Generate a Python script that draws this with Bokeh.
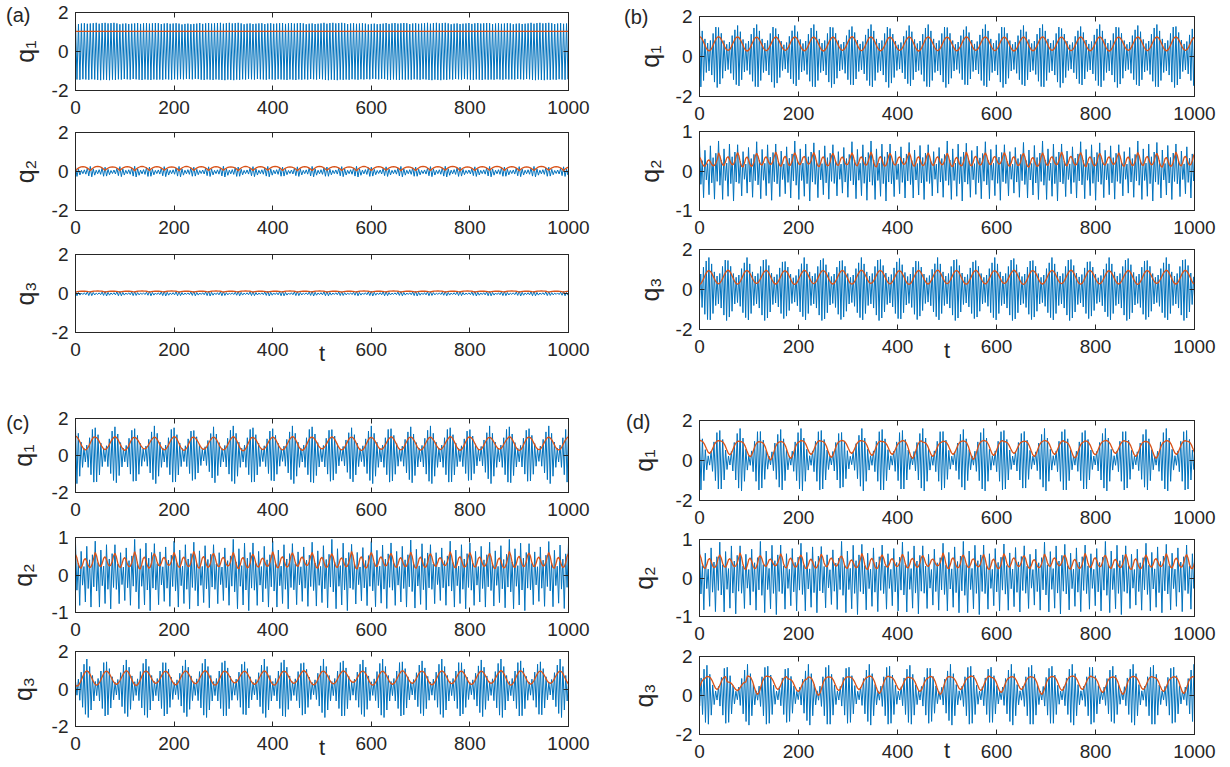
from bokeh.plotting import figure
from bokeh.layouts import column, row
from bokeh.models import LinearAxis, FixedTicker, Range1d
from bokeh.embed import file_html
from bokeh.resources import INLINE

FONT = "Liberation Sans"
AX = "#262626"
BLUE = "#0072BD"
RED = "#D95319"

# ---------------- data ----------------
X_TICKS = [0, 200, 400, 600, 800, 1000]
Y_TICKS_2 = [-2, 0, 2]
Y_TICKS_1 = [-1, 0, 1]
PANEL_LETTERS = ["(a)", "(b)", "(c)", "(d)"]
Y_NAMES = ["q\u2081", "q\u2082", "q\u2083"]
X_NAME = "t"

# normalised profiles of one cycle / one beat
RED_COS = [1.0, 0.93, 0.75, 0.5, 0.25, 0.07, 0.0, 0.07, 0.25, 0.5, 0.75, 0.93]
RED_WIDE = [1.0, 0.98, 0.9, 0.7, 0.4, 0.12, 0.0, 0.15, 0.45, 0.75, 0.92, 0.99]
RED_ARC = [0.0, 0.45, 0.75, 0.93, 1.0, 0.93, 0.75, 0.45]
RED_DBL = [1.0, 0.75, 0.3, 0.05, 0.0, 0.25, 0.6, 0.7, 0.5, 0.2, 0.05, 0.1, 0.35, 0.75]

FLAT_UP = [1.0, 0.97, 0.99, 1.0, 0.98, 0.99, 1.0]
FLAT_DN = [0.99, 1.0, 0.98, 0.99, 1.0, 0.98, 0.99]
SMALL_UP = [1.0, 0.55, 0.3, 0.4, 0.75]
SMALL_DN = [0.9, 0.6, 0.35, 0.45, 0.8]
BEAT_UP_B = [1.0, 0.8, 0.55, 0.42, 0.5, 0.72, 0.92]
BEAT_DN_B = [0.95, 0.75, 0.5, 0.45, 0.58, 0.8, 0.97]
BEAT_UP_C = [1.0, 0.75, 0.45, 0.25, 0.35, 0.6, 0.88]
BEAT_DN_C = [0.95, 0.7, 0.4, 0.22, 0.4, 0.65, 0.9]
BEAT_UP_D = [1.0, 0.7, 0.35, 0.15, 0.3, 0.6, 0.9]
BEAT_DN_D = [0.95, 0.65, 0.3, 0.15, 0.35, 0.65, 0.92]
Q2_UP = [0.95, 0.35, 0.7, 0.25, 0.85, 0.45, 0.6]
Q2_DN = [0.45, 0.9, 0.3, 0.8, 0.4, 0.95, 0.35]

# (a)
A1_RED_PK = [1.03, 1.03, 1.03, 1.03, 1.03, 1.03, 1.03, 1.03, 1.03, 1.03, 1.03, 1.03, 1.03,
             1.03, 1.03, 1.03, 1.03, 1.03, 1.03, 1.03, 1.03, 1.03, 1.03, 1.03, 1.03]
A1_RED_TR = A1_RED_PK
A1_BLUE = [1.45, 1.47, 1.44, 1.46, 1.45, 1.43, 1.46, 1.47, 1.44, 1.45, 1.46, 1.44, 1.47,
           1.45, 1.43, 1.46, 1.45, 1.47, 1.44, 1.46, 1.45, 1.44, 1.47, 1.45, 1.46]
A2_RED_PK = [0.25, 0.26, 0.24, 0.25, 0.26, 0.25, 0.24, 0.26, 0.25, 0.25, 0.24, 0.26, 0.25, 0.26,
             0.24, 0.25, 0.26, 0.25, 0.24, 0.26, 0.25, 0.25, 0.24, 0.26, 0.25, 0.26, 0.24, 0.25,
             0.26, 0.25, 0.24, 0.26, 0.25, 0.25, 0.24]
A2_RED_TR = [0.04, 0.05, 0.06, 0.05, 0.04, 0.05, 0.06, 0.04, 0.05, 0.05, 0.06, 0.04, 0.05, 0.06,
             0.05, 0.04, 0.05, 0.06, 0.05, 0.04, 0.05, 0.06, 0.04, 0.05, 0.05, 0.06, 0.04, 0.05,
             0.06, 0.05, 0.04, 0.05, 0.06, 0.05, 0.04]
A2_BLUE = [0.26, 0.28, 0.24, 0.27, 0.29, 0.25, 0.27, 0.28, 0.24, 0.26, 0.29, 0.25, 0.27, 0.28,
           0.24, 0.26, 0.28, 0.25, 0.27, 0.29, 0.24, 0.26, 0.28, 0.25, 0.27, 0.29, 0.24, 0.26,
           0.28, 0.25, 0.27, 0.28, 0.24, 0.26, 0.28]
A3_RED_PK = [0.12, 0.13, 0.12, 0.12, 0.13, 0.12, 0.13, 0.12, 0.12, 0.13, 0.12, 0.13, 0.12, 0.12,
             0.13, 0.12, 0.13, 0.12, 0.12, 0.13, 0.12, 0.13, 0.12, 0.12, 0.13, 0.12, 0.13, 0.12,
             0.12, 0.13, 0.12, 0.13, 0.12, 0.12, 0.13]
A3_RED_TR = [0.07, 0.08, 0.07, 0.07, 0.08, 0.07, 0.08, 0.07, 0.07, 0.08, 0.07, 0.08, 0.07, 0.07,
             0.08, 0.07, 0.08, 0.07, 0.07, 0.08, 0.07, 0.08, 0.07, 0.07, 0.08, 0.07, 0.08, 0.07,
             0.07, 0.08, 0.07, 0.08, 0.07, 0.07, 0.08]
A3_BLUE = [0.12, 0.11, 0.13, 0.12, 0.1, 0.12, 0.13, 0.11, 0.12, 0.13, 0.1, 0.12, 0.11, 0.13,
           0.12, 0.11, 0.13, 0.12, 0.1, 0.12, 0.13, 0.11, 0.12, 0.13, 0.1, 0.12, 0.11, 0.13,
           0.12, 0.11, 0.13, 0.12, 0.1, 0.12, 0.13]
# (b)
B1_RED_PK = [1.0, 0.99, 0.98, 0.97, 0.98, 0.99, 0.97, 0.98, 1.0, 0.98, 0.97, 0.99, 0.98, 0.97,
             0.99, 0.98, 0.97, 0.98, 0.99, 0.97, 0.98, 0.99, 0.97, 0.98, 0.99, 0.98, 0.97]
B1_RED_TR = [0.28, 0.3, 0.27, 0.29, 0.3, 0.28, 0.27, 0.3, 0.29, 0.28, 0.3, 0.27, 0.29, 0.28,
             0.3, 0.29, 0.27, 0.28, 0.3, 0.29, 0.28, 0.27, 0.3, 0.29, 0.28, 0.3, 0.29]
B1_BLUE = [1.6, 1.45, 1.55, 1.6, 1.4, 1.55, 1.6, 1.45, 1.5, 1.6, 1.4, 1.55, 1.6, 1.45,
           1.5, 1.6, 1.45, 1.55, 1.6, 1.4, 1.5, 1.6, 1.45, 1.55, 1.6, 1.5, 1.45]
B2_RED_PK = [0.35, 0.46, 0.47, 0.45, 0.48, 0.46, 0.47, 0.45, 0.46, 0.48, 0.45, 0.47, 0.46, 0.45,
             0.48, 0.46, 0.47, 0.45, 0.46, 0.48, 0.47, 0.45, 0.46, 0.47, 0.45, 0.48, 0.46]
B2_RED_TR = [0.12, 0.14, 0.1, 0.15, 0.12, 0.16, 0.11, 0.14, 0.13, 0.1, 0.15, 0.12, 0.14, 0.11,
             0.13, 0.16, 0.12, 0.1, 0.14, 0.13, 0.11, 0.15, 0.12, 0.14, 0.1, 0.13, 0.12]
B2_BLUE = [0.75, 0.8, 0.7, 0.78, 0.72, 0.8, 0.75, 0.7, 0.78, 0.8, 0.72, 0.76, 0.7, 0.8,
           0.74, 0.78, 0.7, 0.76, 0.8, 0.72, 0.78, 0.75, 0.7, 0.8, 0.76, 0.72, 0.78]
B3_RED_PK = [0.96, 0.95, 0.97, 0.95, 0.96, 0.94, 0.97, 0.95, 0.96, 0.97, 0.95, 0.94, 0.96, 0.97,
             0.95, 0.96, 0.94, 0.97, 0.95, 0.96, 0.97, 0.95, 0.94, 0.96, 0.95, 0.97, 0.96]
B3_RED_TR = [0.25, 0.28, 0.26, 0.3, 0.27, 0.25, 0.29, 0.27, 0.26, 0.3, 0.28, 0.25, 0.27, 0.29,
             0.26, 0.28, 0.3, 0.25, 0.27, 0.29, 0.26, 0.28, 0.27, 0.25, 0.3, 0.27, 0.26]
B3_BLUE = [1.55, 1.6, 1.45, 1.6, 1.5, 1.4, 1.6, 1.55, 1.45, 1.6, 1.5, 1.55, 1.4, 1.6,
           1.5, 1.45, 1.6, 1.55, 1.45, 1.6, 1.5, 1.4, 1.6, 1.55, 1.45, 1.6, 1.5]
# (c)
C1_RED_PK = [1.05, 1.0, 1.02, 0.98, 1.0, 1.03, 0.99, 1.0, 1.02, 0.98, 1.0, 1.03, 0.99,
             1.01, 1.0, 0.98, 1.02, 1.0, 0.99, 1.03, 1.0, 0.98, 1.02, 1.0, 0.99, 1.01]
C1_RED_TR = [0.3, 0.32, 0.28, 0.35, 0.3, 0.27, 0.33, 0.3, 0.25, 0.32, 0.3, 0.28, 0.35,
             0.3, 0.27, 0.33, 0.3, 0.29, 0.32, 0.28, 0.3, 0.34, 0.27, 0.31, 0.3, 0.29]
C1_BLUE = [1.6, 1.5, 1.55, 1.45, 1.6, 1.5, 1.35, 1.55, 1.6, 1.5, 1.45, 1.6, 1.55,
           1.4, 1.5, 1.6, 1.45, 1.55, 1.6, 1.5, 1.4, 1.6, 1.55, 1.45, 1.6, 1.5]
C2_RED_PK = [0.55, 0.6, 0.58, 0.62, 0.57, 0.6, 0.63, 0.58, 0.6, 0.56, 0.62, 0.59, 0.6,
             0.57, 0.63, 0.6, 0.58, 0.61, 0.57, 0.62, 0.6, 0.58, 0.63, 0.59, 0.6, 0.57]
C2_RED_TR = [0.18, 0.22, 0.2, 0.16, 0.24, 0.2, 0.18, 0.22, 0.17, 0.21, 0.19, 0.23, 0.18,
             0.2, 0.16, 0.22, 0.2, 0.18, 0.23, 0.19, 0.21, 0.17, 0.2, 0.22, 0.18, 0.2]
C2_BLUE = [0.9, 0.95, 0.85, 1.0, 0.88, 0.95, 0.92, 0.85, 1.0, 0.9, 0.95, 0.88, 0.92,
           1.0, 0.86, 0.94, 0.9, 0.98, 0.85, 0.95, 0.9, 0.92, 1.0, 0.88, 0.94, 0.9]
C3_RED_PK = [0.96, 0.97, 0.95, 0.98, 0.96, 0.95, 0.97, 0.98, 0.96, 0.95, 0.97, 0.96, 0.98,
             0.95, 0.97, 0.96, 0.95, 0.98, 0.96, 0.97, 0.95, 0.96, 0.98, 0.97, 0.95, 0.96]
C3_RED_TR = [0.15, 0.2, 0.25, 0.18, 0.3, 0.22, 0.28, 0.2, 0.32, 0.25, 0.2, 0.3, 0.22,
             0.27, 0.35, 0.2, 0.25, 0.3, 0.22, 0.28, 0.24, 0.3, 0.2, 0.26, 0.3, 0.22]
C3_BLUE = [1.5, 1.6, 1.45, 1.55, 1.6, 1.4, 1.55, 1.6, 1.5, 1.45, 1.6, 1.55, 1.4,
           1.6, 1.5, 1.55, 1.6, 1.45, 1.5, 1.6, 1.4, 1.55, 1.6, 1.5, 1.45, 1.6]
# (d)
D1_RED_PK = [1.0, 0.98, 0.95, 0.93, 0.95, 1.0, 0.97, 1.0, 0.98, 0.95, 1.0, 0.92, 0.97,
             0.98, 1.0, 0.95, 0.97, 1.0, 0.93, 0.98, 1.0, 0.96, 0.95, 1.0, 0.97]
D1_RED_TR = [0.35, 0.28, 0.18, 0.02, 0.1, 0.3, 0.15, 0.35, 0.25, 0.3, 0.1, 0.2, 0.3,
             0.05, 0.25, 0.35, 0.2, 0.3, 0.12, 0.28, 0.35, 0.2, 0.1, 0.3, 0.25]
D1_BLUE = [1.55, 1.5, 1.6, 1.45, 1.55, 1.6, 1.5, 1.4, 1.6, 1.55, 1.5, 1.6, 1.45,
           1.55, 1.6, 1.5, 1.45, 1.6, 1.55, 1.5, 1.6, 1.45, 1.55, 1.6, 1.5]
D2_RED_PK = [0.62, 0.6, 0.65, 0.58, 0.63, 0.6, 0.62, 0.57, 0.64, 0.6, 0.62, 0.58, 0.65,
             0.6, 0.61, 0.63, 0.58, 0.62, 0.6, 0.64, 0.59, 0.62, 0.6, 0.63, 0.61]
D2_RED_TR = [0.25, 0.28, 0.22, 0.3, 0.26, 0.24, 0.29, 0.25, 0.22, 0.28, 0.26, 0.3, 0.24,
             0.27, 0.22, 0.28, 0.25, 0.3, 0.23, 0.27, 0.25, 0.22, 0.28, 0.26, 0.24]
D2_BLUE = [0.92, 0.98, 0.88, 1.0, 0.9, 0.95, 0.86, 1.0, 0.92, 0.9, 0.98, 0.88, 0.95,
           1.0, 0.9, 0.93, 0.88, 0.98, 0.92, 0.9, 1.0, 0.88, 0.95, 0.92, 0.9]
D3_RED_PK = [0.9, 0.98, 0.7, 1.0, 0.98, 0.85, 0.95, 0.96, 0.95, 1.0, 0.95, 0.92, 0.98,
             0.95, 1.0, 0.93, 0.97, 0.95, 0.98, 1.0, 0.94, 0.96, 0.98, 0.93, 0.97, 0.95]
D3_RED_TR = [0.2, 0.3, 0.25, 0.05, 0.3, 0.2, 0.0, 0.25, 0.3, 0.1, 0.28, 0.2, 0.05,
             0.3, 0.25, 0.15, 0.3, 0.05, 0.25, 0.3, 0.15, 0.05, 0.3, 0.2, 0.1, 0.25]
D3_BLUE = [1.5, 1.55, 1.45, 1.6, 1.5, 1.4, 1.6, 1.55, 1.45, 1.6, 1.5, 1.55, 1.4,
           1.6, 1.5, 1.45, 1.6, 1.55, 1.5, 1.6, 1.45, 1.5, 1.6, 1.55, 1.45, 1.6]

# panel: (cycle start, cycle length, red peaks, red troughs, red profile,
#         blue amplitudes, blue up profile, blue down profile, blue centre)
SERIES = {
    "a1": (0, 42, A1_RED_PK, A1_RED_TR, RED_COS, A1_BLUE, FLAT_UP, FLAT_DN, 0.0),
    "a2": (0, 30, A2_RED_PK, A2_RED_TR, RED_ARC, A2_BLUE, SMALL_UP, SMALL_DN, -0.02),
    "a3": (0, 30, A3_RED_PK, A3_RED_TR, RED_ARC, A3_BLUE, SMALL_UP, SMALL_DN, -0.01),
    "b1": (0, 38.5, B1_RED_PK, B1_RED_TR, RED_COS, B1_BLUE, BEAT_UP_B, BEAT_DN_B, 0.0),
    "b2": (0, 38.5, B2_RED_PK, B2_RED_TR, RED_DBL, B2_BLUE, Q2_UP, Q2_DN, 0.0),
    "b3": (-19.5, 38.5, B3_RED_PK, B3_RED_TR, RED_COS, B3_BLUE, BEAT_UP_B, BEAT_DN_B, 0.0),
    "c1": (0, 40, C1_RED_PK, C1_RED_TR, RED_COS, C1_BLUE, BEAT_UP_C, BEAT_DN_C, 0.0),
    "c2": (0, 40, C2_RED_PK, C2_RED_TR, RED_DBL, C2_BLUE, Q2_UP, Q2_DN, 0.0),
    "c3": (-17, 40, C3_RED_PK, C3_RED_TR, RED_COS, C3_BLUE, BEAT_UP_C, BEAT_DN_C, 0.0),
    "d1": (0, 41, D1_RED_PK, D1_RED_TR, RED_WIDE, D1_BLUE, BEAT_UP_D, BEAT_DN_D, 0.0),
    "d2": (0, 41, D2_RED_PK, D2_RED_TR, RED_DBL, D2_BLUE, Q2_UP, Q2_DN, 0.0),
    "d3": (-26, 41, D3_RED_PK, D3_RED_TR, RED_WIDE, D3_BLUE, BEAT_UP_D, BEAT_DN_D, 0.0),
}


def red_series(t0, period, peaks, troughs, shape):
    xs, ys = [], []
    n = len(shape)
    for k, (pk, tr) in enumerate(zip(peaks, troughs)):
        for j, s in enumerate(shape):
            xs.append(t0 + k * period + j * period / n)
            ys.append(tr + (pk - tr) * s)
    return xs, ys


def blue_series(t0, period, amps, up, dn, centre):
    xs, ys = [], []
    n = len(up)
    dt = period / n
    for k, a in enumerate(amps):
        for j in range(n):
            t = t0 + k * period + j * dt
            xs += [t, t + dt / 2]
            ys += [centre + a * up[j], centre - a * dn[j]]
    return xs, ys


# ---------------- layout ----------------
LEFT = (75, 493, 40)
RIGHT = (91, 495, 30)
# panel: (column geometry, css margin top, border top, frame height, border bottom)
GEOM = {
    "a1": (LEFT, 0, 12, 78, 42), "a2": (LEFT, -14, 14, 78, 42), "a3": (LEFT, -12, 14, 78, 42),
    "b1": (RIGHT, 0, 16, 80, 42), "b2": (RIGHT, -21, 14, 79, 42), "b3": (RIGHT, -17, 14, 80, 42),
    "c1": (LEFT, 30, 14, 74, 42), "c2": (LEFT, -11, 14, 75, 42), "c3": (LEFT, -17, 14, 75, 40),
    "d1": (RIGHT, 32, 14, 80, 42), "d2": (RIGHT, -17, 14, 77, 42), "d3": (RIGHT, -16, 14, 78, 33),
}
# y label standoff per group; letter: (tick value, label standoff); t label standoff
QSTAND = {"a": 10, "b": 9, "c": 12, "d": 15}
LETTER = {"a": (1.85, -23), "b": (2.0, -16), "c": (1.73, -24), "d": (1.91, -24)}
TSTAND = {"a": -18, "b": -18, "c": -18, "d": -23}
TICK_SIZE = "19px"
QLABEL_SIZE = "25px"


def style_axis(ax, standoff, show=True):
    ax.axis_line_color = AX
    ax.axis_line_width = 1
    ax.major_tick_line_color = AX
    ax.major_tick_line_width = 1
    ax.major_tick_in = 5
    ax.major_tick_out = 0
    ax.minor_tick_in = 0
    ax.minor_tick_out = 0
    ax.minor_tick_line_color = None
    ax.major_label_text_font = FONT
    ax.major_label_text_font_style = "normal"
    ax.axis_label_text_font = FONT
    ax.axis_label_text_font_style = "normal"
    ax.axis_label_text_color = AX
    if show:
        ax.major_label_text_color = AX
        ax.major_label_text_font_size = TICK_SIZE
        ax.major_label_standoff = standoff
    else:
        ax.major_label_text_color = None
        ax.major_label_text_font_size = "1px"
        ax.major_label_standoff = 0


def make_panel(key):
    (bl, fw, br), mt, bt, fh, bb = GEOM[key]
    letter, idx = key[0], int(key[1])
    small = idx == 2 and letter != "a"
    ylim = (-1, 1) if small else (-2, 2)
    yticks = Y_TICKS_1 if small else Y_TICKS_2
    p = figure(frame_width=fw, frame_height=fh, min_border_left=bl, min_border_right=br,
               min_border_top=bt, min_border_bottom=bb, margin=(mt, 0, 0, 0),
               x_range=Range1d(0, 1000), y_range=Range1d(*ylim),
               output_backend="svg", toolbar_location=None, tools="")
    p.xgrid.visible = False
    p.ygrid.visible = False
    p.outline_line_color = AX
    p.outline_line_alpha = 1
    p.outline_line_width = 1
    p.background_fill_color = "white"
    p.border_fill_color = None

    xa = p.xaxis[0]
    xa.ticker = FixedTicker(ticks=X_TICKS)
    xa.major_label_overrides = {t: str(t) for t in X_TICKS}
    style_axis(xa, 10)
    if idx == 3:
        xa.axis_label = X_NAME
        xa.axis_label_text_font_size = "22px"
        xa.axis_label_standoff = TSTAND[letter]

    ya = p.yaxis[0]
    ya.ticker = FixedTicker(ticks=yticks)
    ya.major_label_overrides = {t: str(t) for t in yticks}
    style_axis(ya, 7)
    ya.axis_label = Y_NAMES[idx - 1]
    ya.axis_label_text_font_size = QLABEL_SIZE
    ya.axis_label_standoff = QSTAND[letter]

    top = LinearAxis(ticker=FixedTicker(ticks=X_TICKS))
    style_axis(top, 0, show=False)
    p.add_layout(top, "above")
    right = LinearAxis(ticker=FixedTicker(ticks=yticks))
    style_axis(right, 0, show=False)
    p.add_layout(right, "right")

    if idx == 1:
        tv, st = LETTER[letter]
        la = LinearAxis(ticker=FixedTicker(ticks=[tv]),
                        major_label_overrides={tv: PANEL_LETTERS["abcd".index(letter)]})
        style_axis(la, st)
        la.axis_line_color = None
        la.major_tick_line_color = None
        la.major_label_text_font_size = "20px"
        p.add_layout(la, "left")

    t0, per, pk, tr, rshape, amps, up, dn, ctr = SERIES[key]
    bx, by = blue_series(t0, per, amps, up, dn, ctr)
    rx, ry = red_series(t0, per, pk, tr, rshape)
    p.line(bx, by, line_color=BLUE, line_width=1)
    p.line(rx, ry, line_color=RED, line_width=1.3)
    return p


cols = {}
for letter in "abcd":
    cols[letter] = column([make_panel(letter + str(i)) for i in (1, 2, 3)], spacing=0)

layout = column(row(cols["a"], cols["b"], spacing=0), row(cols["c"], cols["d"], spacing=0),
                spacing=0)

open("out.html", "w").write(file_html(layout, INLINE))
